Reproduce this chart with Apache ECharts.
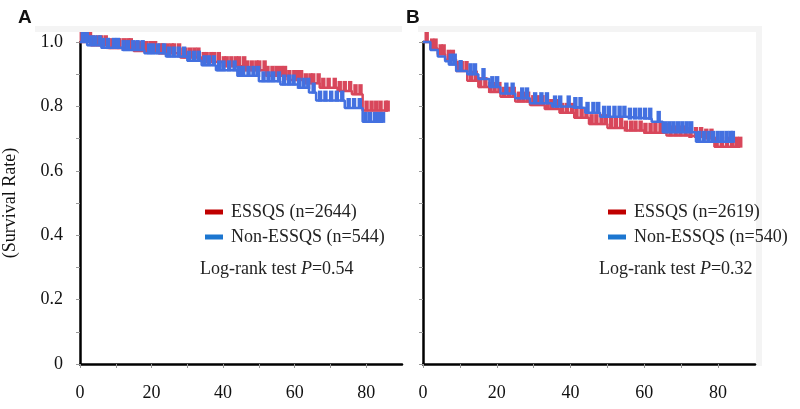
<!DOCTYPE html>
<html><head><meta charset="utf-8">
<script src="https://cdn.jsdelivr.net/npm/echarts@6/dist/echarts.min.js"></script>
<style>html,body{margin:0;padding:0;background:#fff}#c{width:800px;height:409px}</style>
</head><body><div id="c"></div>
<script>
// ---- axis ticks / labels ----
const xTickValues = [0, 10, 20, 30, 40, 50, 60, 70, 80];
const xLabelValues = [0, 20, 40, 60, 80];
const yTickValues = [0, 0.1, 0.2, 0.3, 0.4, 0.5, 0.6, 0.7, 0.8, 0.9, 1.0];
const yLabelValues = [0, 0.2, 0.4, 0.6, 0.8, 1.0];

// ---- Panel A ----
const nameA_ess = 'ESSQS (n=2644)';
const nameA_non = 'Non-ESSQS (n=544)';
const timeA_ess = [0, 3, 8, 15, 22, 28, 34, 40, 46, 52, 58, 63, 67, 72, 76, 79, 86];
const survA_ess = [1.0, 0.99, 0.981, 0.972, 0.965, 0.952, 0.938, 0.925, 0.912, 0.895, 0.882, 0.872, 0.858, 0.848, 0.838, 0.787, 0.787];
const timeA_non = [0, 2, 6, 12, 18, 24, 30, 34, 38, 44, 50, 56, 61, 64, 66, 74, 79, 84.7];
const survA_non = [1.0, 0.99, 0.982, 0.975, 0.965, 0.955, 0.942, 0.928, 0.912, 0.895, 0.878, 0.868, 0.858, 0.843, 0.818, 0.795, 0.752, 0.752];
const censA_ess = [0.5,1.5,2.8,3.6,5,5.9,7.2,8,9.1,10.4,11,12.3,13.5,14.2,15.8,16.5,17.9,18.6,19.8,21,22.4,23.1,24.5,25.6,26.3,27.7,28.9,29.5,30.8,32,33.1,34.6,35.4,36.7,37.5,38.8,40.2,41,42.3,43.6,44.5,45.9,46.7,48,49.3,50.1,51.6,52.4,53.8,55,56.2,57.3,58.5,59.9,60.6,61.8,63.1,64.4,65.2,66.7,68,69.5,71.2,72.6,74,75.5,77,78.4,80.1,81.5,82.8,84,85.5,86];
const censA_non = [0.8,1.9,3,4.2,5.5,6.4,7.8,9.5,10.6,12.2,13.4,14.9,16.1,17.5,19.3,20.4,21.8,23.5,24.9,26.2,27.6,29.1,30.5,31.9,33.2,34.8,36,37.4,38.9,40.1,41.7,43.2,44.4,45.6,47.1,48.5,49.8,51.3,52.7,54,55.6,57,58.4,59.7,61.2,62.5,63.8,65.3,67.1,68.6,70.2,71.8,73.3,75.1,76.6,78.2,79.8,81,82.4,83.6,84.7];
const pA = '0.54';

// ---- Panel B ----
const nameB_ess = 'ESSQS (n=2619)';
const nameB_non = 'Non-ESSQS (n=540)';
const timeB_ess = [0, 2, 4, 6, 9, 12, 15, 18, 21, 25, 29, 33, 37, 41, 45, 50, 55, 60, 66, 72, 76, 79, 86];
const survB_ess = [1.0, 0.98, 0.962, 0.945, 0.91, 0.88, 0.86, 0.845, 0.83, 0.815, 0.804, 0.792, 0.78, 0.765, 0.745, 0.733, 0.725, 0.718, 0.71, 0.705, 0.70, 0.675, 0.675];
const timeB_non = [0, 2, 4, 6, 7, 9, 12, 15, 18, 21, 25, 29, 35, 40, 44, 48, 55, 62, 65, 74, 84];
const survB_non = [1.0, 0.975, 0.955, 0.94, 0.93, 0.91, 0.9, 0.885, 0.86, 0.84, 0.825, 0.81, 0.80, 0.795, 0.78, 0.768, 0.762, 0.752, 0.72, 0.69, 0.69];
const censB_ess = [1,2.5,3.4,4.8,5.6,7,8.1,9.6,10.5,11.8,13,14.3,15.5,16.9,18.2,19.4,20.7,22,23.3,24.6,26,27.2,28.5,29.9,31.1,32.4,33.8,35,36.3,37.7,39,40.4,41.6,43,44.3,45.7,47,48.4,49.6,51,52.3,53.7,55,56.4,57.6,59,60.3,61.7,63,64.4,65.8,67.1,68.5,69.8,71.2,72.5,74,75.4,76.8,78.2,79.6,81,82.4,83.8,85,86];
const censB_non = [7.5,8.6,10.2,12.9,14.1,16.4,18.8,20.1,22.6,24.3,26.9,28.2,30.4,32.1,33.6,35.8,37.2,39.5,41.3,42.7,44.6,46.2,47.5,49.1,50.4,51.9,53.3,54.6,56.1,57.5,58.8,60.2,61.6,63.9,65.7,66.8,67.9,69.1,70.3,71.5,72.7,74.8,76.1,77.4,78.6,79.9,81.1,82.3,83.4,84];
const pB = '0.32';

// ---- styles ----
const curveRed = '#d8475b', curveBlue = '#4370e0';
const legRed = '#c00000', legBlue = '#1c76d0';
const serif = 'Liberation Serif, Times New Roman, serif';

function pairs(t, s) { return t.map((v, i) => [v, s[i]]); }
function survAt(t, s, x) { let v = s[0]; for (let i = 0; i < t.length; i++) { if (t[i] <= x) v = s[i]; } return v; }
function cens(t, s, c) { return c.map(x => [x, survAt(t, s, x)]); }

function xAxis(idx) {
  return {
    gridIndex: idx, type: 'value', min: 0, max: 90,
    axisLine: { show: true, onZero: false, lineStyle: { color: '#000', width: 2.5 } },
    axisTick: { show: true, inside: false, length: 4, customValues: xTickValues, lineStyle: { color: '#999', width: 1 } },
    axisLabel: { customValues: xLabelValues, margin: 20, color: '#111', fontFamily: serif, fontSize: 18 },
    splitLine: { show: false }
  };
}
function yAxis(idx, labels) {
  return {
    gridIndex: idx, type: 'value', min: 0, max: 1,
    name: labels ? '(Survival Rate)' : '', nameLocation: 'middle', nameGap: 61, nameRotate: 90,
    nameTextStyle: { fontFamily: serif, fontSize: 18, color: '#111' },
    axisLine: { show: true, onZero: false, lineStyle: { color: '#000', width: 2.5 } },
    axisTick: { show: true, length: 4, customValues: yTickValues, lineStyle: { color: '#999', width: 1 } },
    axisLabel: { show: labels, customValues: yLabelValues, margin: 17, color: '#111', fontFamily: serif, fontSize: 18,
      formatter: v => (v === 0 ? '0' : v.toFixed(1)) },
    splitLine: { show: false }
  };
}
function curve(name, idx, t, s, lc, ic, z) {
  return { name, type: 'line', xAxisIndex: idx, yAxisIndex: idx, step: 'end', data: pairs(t, s),
    showSymbol: false, clip: false, z, lineStyle: { color: lc, width: 2.5 }, itemStyle: { color: ic } };
}
function ticks(name, idx, t, s, c, lc, h, z) {
  return { name, type: 'scatter', xAxisIndex: idx, yAxisIndex: idx, data: cens(t, s, c), clip: false, z,
    symbol: 'rect', symbolSize: [4.4, h], symbolOffset: [0, -h / 2 + 1], itemStyle: { color: lc, opacity: 1 }, silent: true };
}
function legend(left, items) {
  return { left, top: 202, orient: 'vertical', icon: 'rect', itemWidth: 18, itemHeight: 5, itemGap: 5, padding: 0,
    selectedMode: false,
    textStyle: { fontFamily: serif, fontSize: 18, color: '#222', lineHeight: 20, padding: [0, 0, 0, 3] },
    data: items };
}
function logrank(left, p) {
  return { type: 'text', left, top: 260, style: {
    text: '{n|Log-rank test }{i|P}{n|=' + p + '}',
    rich: { n: { fontFamily: serif, fontSize: 18, fill: '#222' }, i: { fontFamily: serif, fontSize: 18, fontStyle: 'italic', fill: '#222' } } } };
}

const chart = echarts.init(document.getElementById('c'), null, { renderer: 'canvas' });
chart.setOption({
  animation: false,
  backgroundColor: '#fff',
  title: [
    { text: 'A', left: 13, top: 3, textStyle: { fontFamily: 'Liberation Sans, Arial, sans-serif', fontWeight: 'bold', fontSize: 19, color: '#111' } },
    { text: 'B', left: 401, top: 3, textStyle: { fontFamily: 'Liberation Sans, Arial, sans-serif', fontWeight: 'bold', fontSize: 19, color: '#111' } }
  ],
  grid: [
    { left: 73, top: 42, width: 329, height: 322 },
    { left: 423, top: 42, width: 332, height: 322 }
  ],
  xAxis: [xAxis(0), xAxis(1)],
  yAxis: [yAxis(0, true), yAxis(1, false)],
  legend: [
    legend(205, [{ name: nameA_ess, itemStyle: { color: legRed } }, { name: nameA_non, itemStyle: { color: legBlue } }]),
    legend(608, [{ name: nameB_ess, itemStyle: { color: legRed } }, { name: nameB_non, itemStyle: { color: legBlue } }])
  ],
  graphic: [
    { type: 'rect', shape: { x: 35, y: 26, width: 367, height: 6 }, style: { fill: '#f4f4f4' }, z: -10 },
    { type: 'rect', shape: { x: 418, y: 26, width: 344, height: 6 }, style: { fill: '#f4f4f4' }, z: -10 },
    { type: 'rect', shape: { x: 756, y: 26, width: 6, height: 340 }, style: { fill: '#f4f4f4' }, z: -10 },
    logrank(200, pA),
    logrank(599, pB)
  ],
  series: [
    ticks('censA_ess', 0, timeA_ess, survA_ess, censA_ess, curveRed, 11, 2),
    curve(nameA_ess, 0, timeA_ess, survA_ess, curveRed, legRed, 3),
    ticks('censA_non', 0, timeA_non, survA_non, censA_non, curveBlue, 11, 4),
    curve(nameA_non, 0, timeA_non, survA_non, curveBlue, legBlue, 5),
    ticks('censB_ess', 1, timeB_ess, survB_ess, censB_ess, curveRed, 11, 2),
    curve(nameB_ess, 1, timeB_ess, survB_ess, curveRed, legRed, 3),
    ticks('censB_non', 1, timeB_non, survB_non, censB_non, curveBlue, 12, 4),
    curve(nameB_non, 1, timeB_non, survB_non, curveBlue, legBlue, 5)
  ]
});
</script>
</body></html>
